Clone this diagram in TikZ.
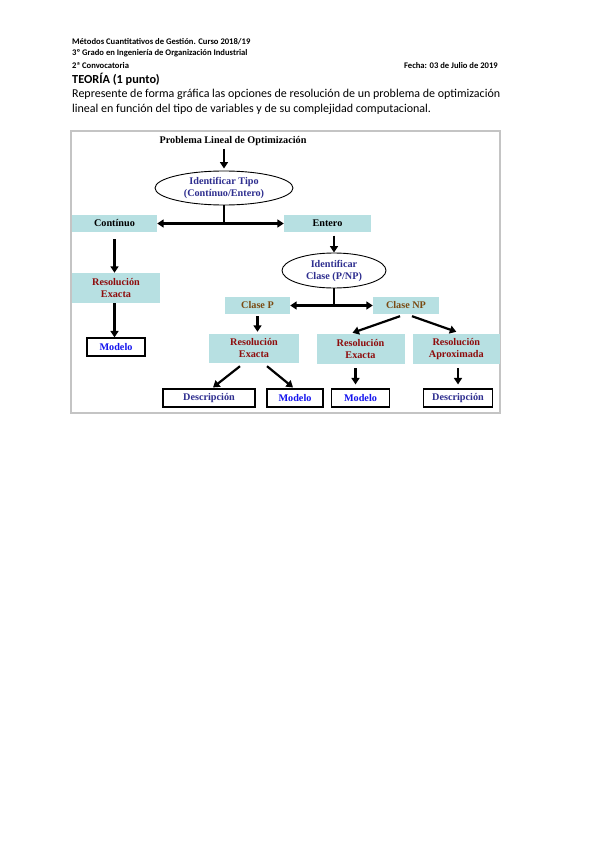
\documentclass[tikz,border=0pt]{standalone}
\usepackage{fontspec}
\setmainfont{Carlito}
\newfontfamily\timesfont{Liberation Serif}
\usetikzlibrary{calc, arrows.meta, shapes.geometric}

\definecolor{cajaazul}{HTML}{B7E0E2}
\definecolor{rojoosc}{HTML}{8E0C0C}
\definecolor{marron}{HTML}{7A4A12}
\definecolor{azulosc}{HTML}{2E2E8F}
\definecolor{azulvivo}{HTML}{1414EE}
\definecolor{marco}{HTML}{C4C4C4}

\tikzset{
  cabecera/.style={inner sep=0pt, font=\bfseries\fontsize{8.6}{10}\selectfont},
  dtexto/.style={font=\timesfont\bfseries\fontsize{10.2}{12}\selectfont, align=center, inner sep=0pt},
  caja/.style={dtexto, fill=cajaazul, minimum height=17pt},
  elipse/.style={dtexto, ellipse, draw, line width=0.9pt, text=azulosc},
  salida/.style={dtexto, draw, fill=white, line width=1.1pt, minimum height=18pt},
  flecha/.style={line width=2.2pt, -{Triangle[length=6.5pt,width=8pt]}},
  flecha2/.style={line width=2.2pt, {Triangle[length=6.5pt,width=8pt]}-{Triangle[length=6.5pt,width=8pt]}},
}

\begin{document}
\begin{tikzpicture}[x=1pt, y=-1pt]
  \useasboundingbox[fill=white] (0,0) rectangle (599,848);
  \node[cabecera, anchor=west] (cab1) at (72,42) {Métodos Cuantitativos de Gestión. Curso 2018/19};
  \node[cabecera, anchor=west] (cab2) at (72,53.5) {3º Grado en Ingeniería de Organización Industrial};
  \node[cabecera, anchor=west] (cab3) at (72,65.5) {2ª Convocatoria};
  \node[cabecera, anchor=east] (fecha) at (498,66) {Fecha: 03 de Julio de 2019};
  \node[anchor=west, inner sep=0pt, font=\bfseries\fontsize{12.3}{14}\selectfont] (teoria) at (72,79) {TEORÍA (1 punto)};
  \node[anchor=north west, align=left, inner sep=0pt, font=\fontsize{12}{15}\selectfont] (enunciado) at (72,89)
    {Represente de forma gráfica las opciones de resolución de un problema de optimización\\
     lineal en función del tipo de variables y de su complejidad computacional.};

  \draw[marco, line width=1.3pt] (71,131) rectangle (500,413);

  % diagrama
  \node[dtexto] (problema) at (233,141) {Problema Lineal de Optimización};
  \node[elipse, minimum width=138pt, minimum height=34pt] (tipo) at (224,188) {Identificar Tipo\\(Contínuo/Entero)};
  \node[caja, minimum width=85pt] (continuo) at (114.5,223.5) {Contínuo};
  \node[caja, minimum width=87pt] (entero) at (327.5,223) {Entero};
  \node[caja, minimum width=88pt, minimum height=30pt, text=rojoosc] (resA) at (116,288) {Resolución\\Exacta};
  \node[salida, minimum width=58pt, text=azulvivo] (modeloA) at (116,347) {Modelo};
  \node[elipse, minimum width=104pt, minimum height=35pt] (clase) at (334,270.5) {Identificar\\Clase (P/NP)};
  \node[caja, minimum width=65pt, text=marron] (claseP) at (257.5,305.5) {Clase P};
  \node[caja, minimum width=66pt, text=marron] (claseNP) at (406,305.5) {Clase NP};
  \node[caja, minimum width=90pt, minimum height=29pt, text=rojoosc] (resP) at (254,348.5) {Resolución\\Exacta};
  \node[caja, minimum width=88pt, minimum height=30pt, text=rojoosc] (resNP) at (360.5,349) {Resolución\\Exacta};
  \node[caja, minimum width=87.5pt, minimum height=30pt, text=rojoosc] (resAprox) at (456.3,349) {Resolución\\Aproximada};
  \node[salida, minimum width=92pt, text=azulosc] (descP) at (209,398) {Descripción};
  \node[salida, minimum width=56pt, text=azulvivo] (modeloP) at (295,398) {Modelo};
  \node[salida, minimum width=58pt, text=azulvivo] (modeloNP) at (360.5,398) {Modelo};
  \node[salida, minimum width=69pt, text=azulosc] (descAprox) at (458,398) {Descripción};

  \draw[flecha, shorten <=3pt, shorten >=2pt] (problema.south -| tipo.north) -- (tipo.north);
  \draw[line width=2.2pt] (tipo.south) -- (tipo.south |- continuo.east);
  \draw[flecha2] (continuo.east) -- (continuo.east -| entero.west);
  \draw[flecha, shorten <=7pt] (continuo.south) -- (continuo.south |- resA.north);
  \draw[flecha] (resA.south -| continuo.south) -- (modeloA.north -| continuo.south);
  \draw[flecha, shorten <=4pt] (clase.north |- entero.south) -- (clase.north);
  \draw[line width=2.2pt] (clase.south) -- (clase.south |- claseP.east);
  \draw[flecha2] (claseP.east) -- (claseNP.west);
  \draw[flecha, shorten <=2pt, shorten >=2pt] (claseP.south) -- (claseP.south |- resP.north);
  \draw[flecha] ($(claseNP.south)+(-6,2)$) -- ($(resNP.north)+(-8,-1)$);
  \draw[flecha] ($(claseNP.south)+(6,2)$) -- ($(resAprox.north)+(0,-2)$);
  \draw[flecha] ($(resP.south)+(-14,3)$) -- ($(descP.north)+(4,-1)$);
  \draw[flecha] ($(resP.south)+(13,3)$) -- ($(modeloP.north)+(-2,-1)$);
  \draw[flecha, shorten <=4pt, shorten >=4pt] ($(resNP.south -| modeloNP.north)+(-5,0)$) -- ($(modeloNP.north)+(-5,0)$);
  \draw[flecha, shorten <=4pt, shorten >=4pt] (resAprox.south -| descAprox.north) -- (descAprox.north);
\end{tikzpicture}
\end{document}
